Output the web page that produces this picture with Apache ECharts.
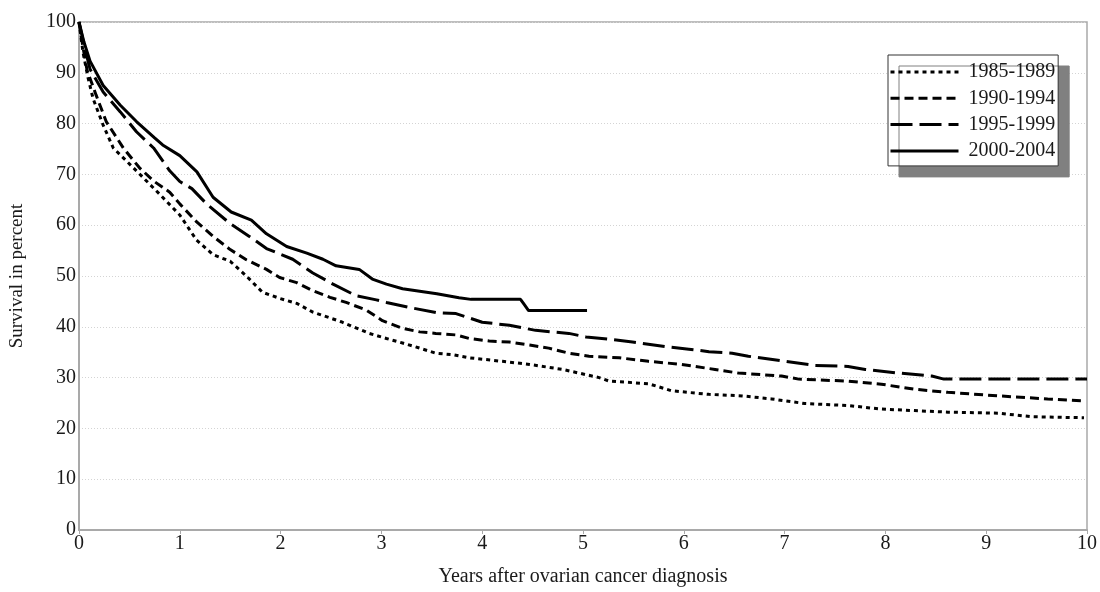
<!DOCTYPE html>
<html>
<head>
<meta charset="utf-8">
<script src="https://cdn.jsdelivr.net/npm/echarts@6/dist/echarts.min.js"></script>
<style>html,body{margin:0;padding:0;background:#fff}#c{width:1100px;height:592px}</style>
</head>
<body>
<div id="c"></div>
<script>
// Kaplan-Meier survival estimates: [years, survival %]
const period1985 = [[0,100],[0.04,94],[0.09,89],[0.14,84.9],[0.24,79.7],[0.34,75.2],[0.57,70.7],[0.8,66.1],[1.0,62],[1.165,57.1],[1.33,54.2],[1.5,52.9],[1.66,50],[1.82,46.8],[1.99,45.6],[2.16,44.6],[2.32,42.9],[2.6,41],[2.88,38.7],[3.05,37.7],[3.21,36.8],[3.38,35.8],[3.54,34.8],[3.71,34.5],[3.87,33.9],[4.2,33.2],[4.47,32.6],[4.8,31.6],[5.16,30.0],[5.26,29.3],[5.65,28.8],[5.88,27.4],[6.25,26.7],[6.58,26.4],[6.87,25.8],[7.2,24.9],[7.63,24.5],[7.96,23.8],[8.29,23.5],[8.62,23.2],[9.12,23.0],[9.45,22.3],[9.97,22.1]];
const period1990 = [[0,100],[0.04,95],[0.08,90.5],[0.17,85.6],[0.27,80.4],[0.44,75.2],[0.6,71.3],[0.74,68.7],[0.9,66.5],[1.0,64.2],[1.165,60.7],[1.33,57.8],[1.5,55.2],[1.66,53.2],[1.86,51.3],[1.99,49.7],[2.16,48.7],[2.32,47.1],[2.49,45.8],[2.65,44.8],[2.85,43.3],[3.01,41.2],[3.21,39.7],[3.38,39.0],[3.54,38.7],[3.74,38.4],[3.87,37.7],[4.07,37.2],[4.27,37.0],[4.47,36.4],[4.66,35.8],[4.86,34.8],[5.06,34.2],[5.36,33.9],[5.65,33.2],[5.98,32.6],[6.31,31.6],[6.54,30.9],[6.97,30.3],[7.14,29.7],[7.63,29.3],[7.96,28.7],[8.29,27.7],[8.62,27.1],[9.12,26.4],[9.61,25.8],[9.97,25.4]];
const period1995 = [[0,100],[0.05,95.5],[0.11,90.7],[0.24,86.2],[0.41,82.3],[0.57,78.4],[0.74,75.2],[0.9,70.7],[1.0,68.6],[1.12,67.2],[1.27,64.1],[1.5,60.3],[1.69,57.8],[1.86,55.4],[2.12,53.3],[2.32,50.6],[2.52,48.4],[2.75,46.1],[2.95,45.3],[3.05,44.8],[3.28,43.8],[3.54,42.8],[3.74,42.6],[4.0,40.9],[4.27,40.3],[4.53,39.3],[4.86,38.7],[5.03,38.0],[5.33,37.4],[5.49,37.0],[5.82,36.1],[6.05,35.6],[6.25,35.1],[6.48,34.8],[6.64,34.2],[6.97,33.3],[7.3,32.4],[7.63,32.2],[7.8,31.6],[8.13,30.9],[8.46,30.3],[8.58,29.7],[10,29.7]];
const period2000 = [[0,100],[0.05,96],[0.11,92.3],[0.24,87.5],[0.41,83.6],[0.57,80.4],[0.75,77.2],[0.83,75.8],[1.0,73.7],[1.17,70.5],[1.33,65.5],[1.51,62.6],[1.71,61],[1.86,58.3],[2.06,55.8],[2.26,54.5],[2.42,53.3],[2.55,52],[2.78,51.3],[2.91,49.4],[3.05,48.4],[3.21,47.5],[3.55,46.5],[3.77,45.7],[3.89,45.4],[4.38,45.4],[4.42,44.3],[4.46,43.2],[5.04,43.2]];
const seriesNames = ['1985-1989','1990-1994','1995-1999','2000-2004'];
const xTicks = [0,1,2,3,4,5,6,7,8,9,10];
const yTicks = [0,10,20,30,40,50,60,70,80,90,100];
const xTitle = 'Years after ovarian cancer diagnosis';
const yTitle = 'Survival in percent';

const FONT = '"Liberation Serif", "DejaVu Serif", serif';
const TXT = '#1a1a1a';
const AX = '#a9a9a9';
const dashes = [[4,4],[9,5],[22,7],'solid'];
const datasets = [period1985, period1990, period1995, period2000];

const el = document.getElementById('c');
const chart = echarts.init(el, null, {renderer:'canvas'});
chart.setOption({
  animation:false,
  backgroundColor:'#fff',
  grid:{left:79,top:22,width:1010,height:516,show:true,borderColor:AX,borderWidth:1.5,backgroundColor:'transparent'},
  xAxis:{type:'value',min:xTicks[0],max:xTicks[xTicks.length-1],interval:1,
    name:xTitle,nameLocation:'middle',nameGap:37,
    nameTextStyle:{fontFamily:FONT,fontSize:20,color:TXT},
    axisLine:{show:true,onZero:false,lineStyle:{color:AX,width:2}},
    axisTick:{show:true,length:4,lineStyle:{color:AX}},
    axisLabel:{fontFamily:FONT,fontSize:20,color:TXT,margin:4},
    splitLine:{show:false}},
  yAxis:{type:'value',min:yTicks[0],max:yTicks[yTicks.length-1],interval:10,
    name:yTitle,nameLocation:'middle',nameGap:52,
    nameTextStyle:{fontFamily:FONT,fontSize:19,color:TXT},
    axisLine:{show:true,lineStyle:{color:AX,width:2}},
    axisTick:{show:false},
    axisLabel:{fontFamily:FONT,fontSize:20,color:TXT,margin:3},
    splitLine:{show:true,lineStyle:{color:'#d4d4d4',type:[1,2],width:1}}},
  legend:{orient:'vertical',left:888,top:55,
    backgroundColor:'#fff',borderColor:'#333',borderWidth:1,
    shadowColor:'#808080',shadowOffsetX:11,shadowOffsetY:11,shadowBlur:0,
    padding:[7,3,5,1],itemGap:6.3,itemWidth:68,itemHeight:14,
    itemStyle:{opacity:0},
    lineStyle:{width:3,color:'#000'},
    data:seriesNames,
    textStyle:{fontFamily:FONT,fontSize:20,color:TXT,lineHeight:20,padding:[0,0,0,5]}},
  series: datasets.map((d,i)=>({
    name:seriesNames[i],type:'line',data:d,showSymbol:false,symbol:'none',
    lineStyle:{color:'#000',width:3,type:dashes[i]},
    itemStyle:{color:'#000'},z:10-i
  }))
});
</script>
</body>
</html>
